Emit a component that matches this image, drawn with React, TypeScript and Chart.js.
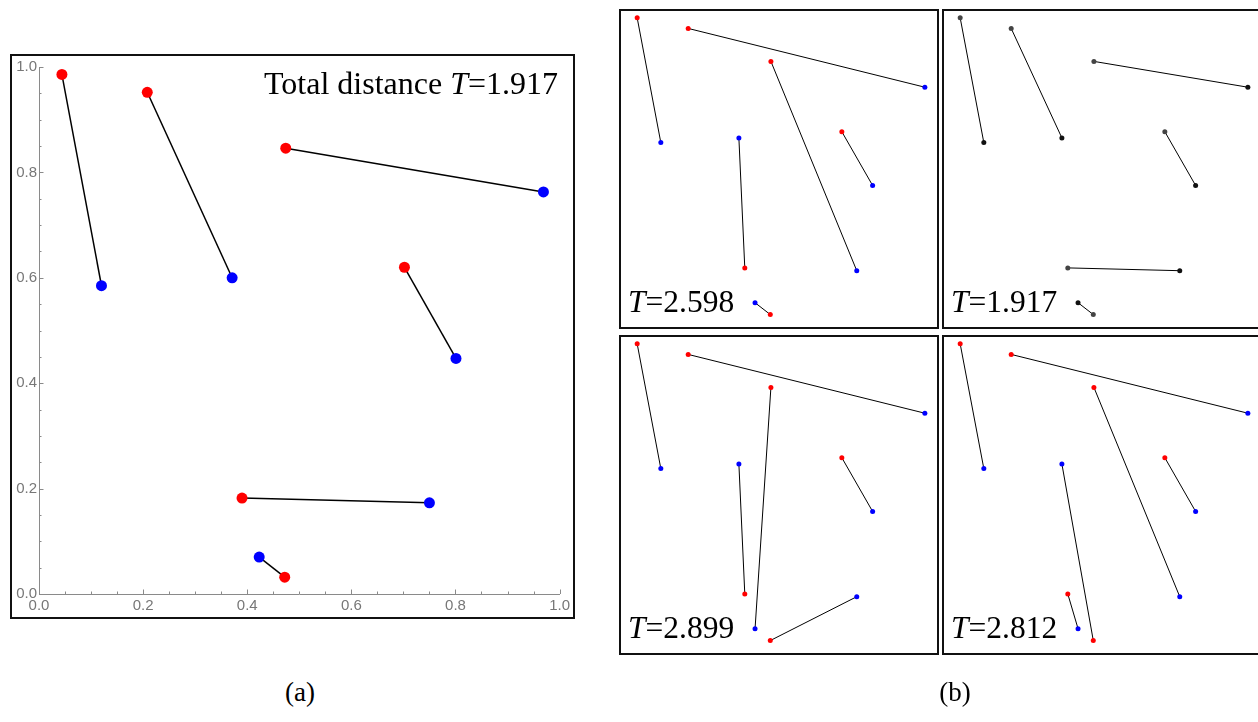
import React, { useEffect, useRef } from "react";
import { Chart, registerables } from "chart.js";

Chart.register(...registerables);

// Red points (sources) and blue points (targets)
const redX = [0.044, 0.208, 0.474, 0.702, 0.390, 0.472];
const redY = [0.986, 0.952, 0.846, 0.620, 0.182, 0.032];
const blueX = [0.120, 0.371, 0.969, 0.801, 0.750, 0.423];
const blueY = [0.585, 0.600, 0.763, 0.447, 0.173, 0.070];

// Matchings: for each red point, the index of the blue point it is paired with
const matchOptimal = [0, 1, 2, 3, 4, 5];
const matchA = [0, 2, 4, 3, 1, 5];
const matchB = [0, 2, 5, 3, 1, 4];
const matchC = [0, 2, 4, 3, 5, 1];

const mainTotal = "1.917";
const panelTotals = ["2.598", "1.917", "2.899", "2.812"];
const panelMatches = [matchA, matchOptimal, matchB, matchC];
const panelGray = [false, true, false, false];

const axisTicks = [0, 0.2, 0.4, 0.6, 0.8, 1.0];

function buildDatasets(match: number[], redColor: string, blueColor: string, radius: number, lineWidth: number) {
  return match.map((b, i) => ({
    data: [
      { x: redX[i], y: redY[i] },
      { x: blueX[b], y: blueY[b] },
    ],
    showLine: true,
    borderColor: "#000",
    borderWidth: lineWidth,
    pointBackgroundColor: [redColor, blueColor],
    pointBorderWidth: 0,
    pointRadius: radius,
    pointHoverRadius: radius,
    clip: false as any,
  }));
}

const inwardTicks = {
  id: "inwardTicks",
  beforeDatasetsDraw(chart: any) {
    const { ctx, chartArea } = chart;
    const xs = chart.scales.x;
    const ys = chart.scales.y;
    ctx.save();
    ctx.strokeStyle = "#8a8a8a";
    ctx.lineWidth = 1;
    for (let k = 0; k <= 20; k++) {
      const v = k * 0.05;
      const len = k % 4 === 0 ? 4.5 : 2.5;
      const px = Math.round(xs.getPixelForValue(v)) + 0.5;
      ctx.beginPath();
      ctx.moveTo(px, chartArea.bottom);
      ctx.lineTo(px, chartArea.bottom - len);
      ctx.stroke();
      const py = Math.round(ys.getPixelForValue(v)) + 0.5;
      ctx.beginPath();
      ctx.moveTo(chartArea.left, py);
      ctx.lineTo(chartArea.left + len, py);
      ctx.stroke();
    }
    ctx.restore();
  },
};

function MainChart() {
  const ref = useRef<HTMLCanvasElement>(null);
  useEffect(() => {
    const chart = new Chart(ref.current!, {
      type: "scatter",
      data: { datasets: buildDatasets(matchOptimal, "#ff0000", "#0000ff", 5.5, 1.5) as any },
      plugins: [inwardTicks],
      options: {
        animation: false,
        responsive: false,
        devicePixelRatio: 1,
        layout: { padding: { top: 10, right: 11, left: 0, bottom: 0 } },
        plugins: { legend: { display: false }, tooltip: { enabled: false } },
        scales: {
          x: {
            type: "linear",
            min: 0,
            max: 1,
            afterBuildTicks: (s: any) => {
              s.ticks = axisTicks.map((v) => ({ value: v }));
            },
            afterFit: (s: any) => {
              s.height = 23;
            },
            ticks: {
              callback: (v: any) => Number(v).toFixed(1),
              color: "#777",
              font: { family: "Liberation Sans", size: 15 },
              padding: 3,
              maxRotation: 0,
            },
            grid: { display: false, drawTicks: false },
            border: { display: true, color: "#8a8a8a", width: 1 },
          },
          y: {
            type: "linear",
            min: 0,
            max: 1,
            afterBuildTicks: (s: any) => {
              s.ticks = axisTicks.map((v) => ({ value: v }));
            },
            afterFit: (s: any) => {
              s.width = 27;
            },
            ticks: {
              callback: (v: any) => Number(v).toFixed(1),
              color: "#777",
              font: { family: "Liberation Sans", size: 15 },
              padding: 2,
            },
            grid: { display: false, drawTicks: false },
            border: { display: true, color: "#8a8a8a", width: 1 },
          },
        },
      },
    });
    return () => chart.destroy();
  }, []);
  return <canvas ref={ref} width={561} height={561} style={{ display: "block", width: 561, height: 561 }} />;
}

function SmallChart({ idx }: { idx: number }) {
  const ref = useRef<HTMLCanvasElement>(null);
  useEffect(() => {
    const gray = panelGray[idx];
    const chart = new Chart(ref.current!, {
      type: "scatter",
      data: {
        datasets: buildDatasets(
          panelMatches[idx],
          gray ? "#444444" : "#ff0000",
          gray ? "#111111" : "#0000ff",
          2.5,
          1
        ) as any,
      },
      options: {
        animation: false,
        responsive: false,
        devicePixelRatio: 1,
        layout: { padding: 0 },
        plugins: { legend: { display: false }, tooltip: { enabled: false } },
        scales: {
          x: { type: "linear", min: 0, max: 1, display: false },
          y: { type: "linear", min: 0, max: 1, display: false },
        },
      },
    });
    return () => chart.destroy();
  }, [idx]);
  return <canvas ref={ref} width={316} height={316} style={{ display: "block", width: 316, height: 316 }} />;
}

const serif = "'Liberation Serif', 'Times New Roman', serif";

export default function App() {
  const panelPos = [
    { left: 619, top: 9 },
    { left: 942, top: 9 },
    { left: 619, top: 335 },
    { left: 942, top: 335 },
  ];
  return (
    <div
      style={{
        position: "absolute",
        left: 0,
        top: 0,
        width: 1258,
        height: 722,
        overflow: "hidden",
        background: "#fff",
      }}
    >
      <div
        style={{
          position: "absolute",
          left: 10,
          top: 54,
          width: 565,
          height: 565,
          border: "2px solid #111",
          boxSizing: "border-box",
        }}
      >
        <MainChart />
      </div>
      <div
        style={{
          position: "absolute",
          left: 0,
          width: 558,
          top: 68,
          textAlign: "right",
          fontFamily: serif,
          fontSize: 32,
          lineHeight: "31px",
          whiteSpace: "nowrap",
          color: "#000",
        }}
      >
        Total distance <i>T</i>={mainTotal}
      </div>
      {panelPos.map((p, i) => (
        <React.Fragment key={i}>
          <div
            style={{
              position: "absolute",
              left: p.left,
              top: p.top,
              width: 320,
              height: 320,
              border: "2px solid #111",
              boxSizing: "border-box",
            }}
          >
            <SmallChart idx={i} />
          </div>
          <div
            style={{
              position: "absolute",
              left: p.left + 9,
              top: p.top + 277,
              fontFamily: serif,
              fontSize: 31.5,
              lineHeight: "31px",
              whiteSpace: "nowrap",
              color: "#000",
            }}
          >
            <i>T</i>={panelTotals[i]}
          </div>
        </React.Fragment>
      ))}
      <div
        style={{
          position: "absolute",
          left: 250,
          width: 100,
          top: 679,
          textAlign: "center",
          fontFamily: serif,
          fontSize: 27,
          lineHeight: "27px",
          color: "#000",
        }}
      >
        (a)
      </div>
      <div
        style={{
          position: "absolute",
          left: 905,
          width: 100,
          top: 679,
          textAlign: "center",
          fontFamily: serif,
          fontSize: 27,
          lineHeight: "27px",
          color: "#000",
        }}
      >
        (b)
      </div>
    </div>
  );
}
